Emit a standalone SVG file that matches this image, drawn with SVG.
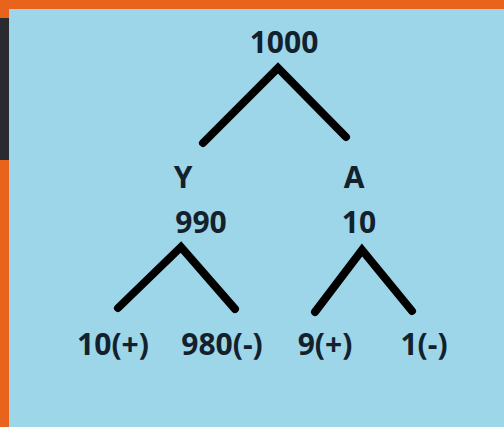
<svg xmlns="http://www.w3.org/2000/svg" width="504" height="427" viewBox="0 0 504 427">
<style>
.t{font-family:"Open Sans","Liberation Sans",sans-serif;font-weight:700;font-size:30px;fill:#13212d;text-anchor:middle}
.e{stroke:#000;stroke-width:8;stroke-linecap:round;stroke-linejoin:miter;fill:none}
</style>
<rect x="0" y="0" width="504" height="427" fill="#e8641c"/>
<rect x="0" y="18" width="9" height="142" fill="#2a2b30"/>
<rect x="9" y="9" width="495" height="418" fill="#9dd6e8"/>
<g id="edges">
<polyline class="e" points="203,143 278,68 346,137"/>
<polyline class="e" points="118,308 181,247 235,309"/>
<polyline class="e" points="315,312 362,250 412,311"/>
</g>
<g id="root"><text class="t" x="284" y="53">1000</text></g>
<g id="Y"><text class="t" x="183" y="188">Y</text><text class="t" x="201" y="233">990</text></g>
<g id="A"><text class="t" x="354" y="188">A</text><text class="t" x="359" y="233">10</text></g>
<g id="leaf1"><text class="t" x="113" y="355">10(+)</text></g>
<g id="leaf2"><text class="t" x="222" y="355">980(-)</text></g>
<g id="leaf3"><text class="t" x="325" y="355">9(+)</text></g>
<g id="leaf4"><text class="t" x="424" y="355">1(-)</text></g>
</svg>
